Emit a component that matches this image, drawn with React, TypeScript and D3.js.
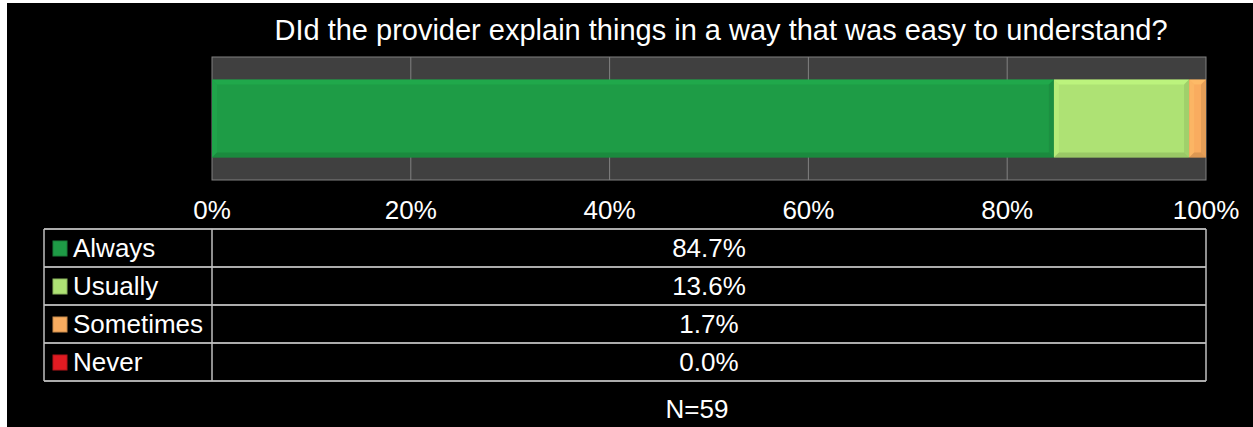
import React from "react";
import * as d3 from "d3";

const title = "DId the provider explain things in a way that was easy to understand?";
const categories = ["Always", "Usually", "Sometimes", "Never"];
const values = [84.7, 13.6, 1.7, 0.0];
const colors = ["#1e9c46", "#aee274", "#f9ac5f", "#e01b22"];
const ticks = [0, 20, 40, 60, 80, 100];
const footnote = "N=59";

const W = 1253;
const H = 427;
const FONT = "'Liberation Sans', Arial, sans-serif";

export default function App() {
  const plotL = 212, plotR = 1206, plotT = 57, plotB = 180;
  const x = d3.scaleLinear().domain([0, 100]).range([plotL, plotR]);
  const barBand = d3.scaleBand().domain(["q"]).range([plotT, plotB]).paddingInner(0).paddingOuter(0.29);
  const barY = barBand("q")!;
  const barH = barBand.bandwidth();

  const stack = d3.stack<any>().keys(categories)([
    Object.fromEntries(categories.map((c, i) => [c, values[i]])),
  ]);

  const tableL = 44, tableMid = 212, tableR = 1206, tableT = 229, rowH = 38;
  const rows = d3.range(categories.length);
  const bev = 5;

  return (
    <svg width={W} height={H} style={{ position: "absolute", left: 0, top: 0 }}>
      <rect x={0} y={0} width={W} height={H} fill="#ffffff" />
      <rect x={7} y={3} width={W - 7} height={H - 3} fill="#000000" />
      <text x={721} y={40} textAnchor="middle" fill="#ffffff" fontFamily={FONT} fontSize={29}>
        {title}
      </text>
      {/* plot area */}
      <rect x={plotL} y={plotT} width={plotR - plotL} height={plotB - plotT} fill="#404040" stroke="#808080" strokeWidth={1} />
      {ticks.slice(1, -1).map((t) => (
        <line key={t} x1={x(t)} x2={x(t)} y1={plotT} y2={plotB} stroke="#808080" strokeWidth={1} />
      ))}
      {stack.map((s, i) => {
        const x0 = x(s[0][0]);
        const x1 = x(s[0][1]);
        const w = x1 - x0;
        if (w <= 0) return null;
        const c = d3.color(colors[i])!;
        const light = c.brighter(0.35).formatHex();
        const dark = c.darker(0.5).formatHex();
        const b = Math.min(bev, w / 2);
        const y0 = barY, y1 = barY + barH;
        return (
          <g key={categories[i]}>
            <rect x={x0} y={y0} width={w} height={barH} fill={colors[i]} />
            <polygon points={`${x0},${y0} ${x1},${y0} ${x1 - b},${y0 + b} ${x0 + b},${y0 + b}`} fill={light} opacity={0.6} />
            <polygon points={`${x0},${y0} ${x0 + b},${y0 + b} ${x0 + b},${y1 - b} ${x0},${y1}`} fill={light} opacity={0.4} />
            <polygon points={`${x0},${y1} ${x1},${y1} ${x1 - b},${y1 - b} ${x0 + b},${y1 - b}`} fill={dark} opacity={0.7} />
            <polygon points={`${x1},${y0} ${x1},${y1} ${x1 - b},${y1 - b} ${x1 - b},${y0 + b}`} fill={dark} opacity={0.5} />
          </g>
        );
      })}
      {ticks.map((t) => (
        <text key={t} x={x(t)} y={219} textAnchor="middle" fill="#ffffff" fontFamily={FONT} fontSize={26}>
          {t}%
        </text>
      ))}
      {/* data table */}
      {d3.range(categories.length + 1).map((r) => (
        <line key={"h" + r} x1={tableL} x2={tableR} y1={tableT + r * rowH} y2={tableT + r * rowH} stroke="#e6e6e6" strokeWidth={1.5} />
      ))}
      <line x1={tableL} x2={tableL} y1={tableT} y2={tableT + rowH * categories.length} stroke="#bfbfbf" strokeWidth={1.5} />
      <line x1={tableMid} x2={tableMid} y1={tableT} y2={tableT + rowH * categories.length} stroke="#bfbfbf" strokeWidth={1.5} />
      <line x1={tableR} x2={tableR} y1={tableT} y2={tableT + rowH * categories.length} stroke="#bfbfbf" strokeWidth={1.5} />
      {rows.map((r) => {
        const yTop = tableT + r * rowH;
        const c = d3.color(colors[r])!;
        return (
          <g key={categories[r]}>
            <rect x={53} y={yTop + 12} width={14} height={15} fill={colors[r]} stroke={c.darker(0.6).formatHex()} strokeWidth={1} />
            <text x={73} y={yTop + 28} fill="#ffffff" fontFamily={FONT} fontSize={26}>
              {categories[r]}
            </text>
            <text x={(tableMid + tableR) / 2} y={yTop + 28} textAnchor="middle" fill="#ffffff" fontFamily={FONT} fontSize={26}>
              {values[r].toFixed(1)}%
            </text>
          </g>
        );
      })}
      <text x={697} y={418} textAnchor="middle" fill="#ffffff" fontFamily={FONT} fontSize={26}>
        {footnote}
      </text>
    </svg>
  );
}
